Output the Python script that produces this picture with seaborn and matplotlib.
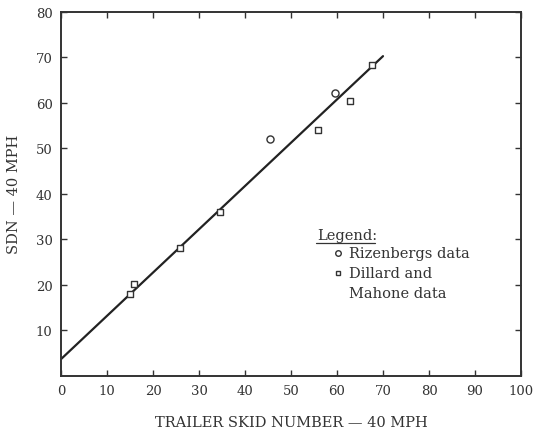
import matplotlib
matplotlib.use("Agg")
import matplotlib.pyplot as plt
import seaborn as sns
import pandas as pd

# Data
riz_x = [45.5, 59.6]
riz_y = [52.0, 62.2]
dm_x = [15.0, 15.8, 25.8, 34.6, 55.9, 62.9, 67.7]
dm_y = [17.9, 20.1, 28.2, 36.0, 54.0, 60.3, 68.2]
fit_x = [0, 70]
fit_y = [3.7, 70.2]
x_ticks = [0, 10, 20, 30, 40, 50, 60, 70, 80, 90, 100]
y_ticks = [10, 20, 30, 40, 50, 60, 70, 80]

sns.set_theme(style="ticks")
plt.rcParams['font.family'] = ['DejaVu Serif']

fig = plt.figure(figsize=(5.41, 4.31), dpi=100)
ax = fig.add_axes([61/541, 1 - 377/431, 460/541, 364.5/431])

riz = pd.DataFrame({"x": riz_x, "y": riz_y})
dm = pd.DataFrame({"x": dm_x, "y": dm_y})
fit = pd.DataFrame({"x": fit_x, "y": fit_y})

sns.lineplot(data=fit, x="x", y="y", ax=ax, color="#222222", linewidth=1.6)
sns.scatterplot(data=riz, x="x", y="y", ax=ax, marker="o", s=26,
                facecolor="white", edgecolor="#333333", linewidth=1.0, zorder=3)
sns.scatterplot(data=dm, x="x", y="y", ax=ax, marker="s", s=20,
                facecolor="white", edgecolor="#333333", linewidth=1.0, zorder=3)

ax.set_xlim(0, 100)
ax.set_ylim(0, 80)
ax.set_xticks(x_ticks)
ax.set_yticks(y_ticks)
ax.set_xticklabels([str(t) for t in x_ticks])
ax.set_yticklabels([str(t) for t in y_ticks])
ax.tick_params(direction="in", top=True, right=True, length=4, width=1.0,
               labelsize=9.5, colors="#333333", pad=6)
for s in ax.spines.values():
    s.set_linewidth(1.4)
    s.set_color("#333333")

ax.set_xlabel("TRAILER SKID NUMBER — 40 MPH", fontsize=10.5, color="#333333", labelpad=13)
ax.set_ylabel("SDN — 40 MPH", fontsize=10.5, color="#333333", labelpad=11)

# Legend as text
tc = "#333333"
fs = 10.5
ax.text(55.6, 31.0, "Legend:", fontsize=fs, color=tc, va="center", ha="left")
ax.plot([55.5, 68.3], [29.3, 29.3], color=tc, linewidth=0.9)
ax.plot([60.2], [26.9], marker="o", markersize=4, mfc="white", mec=tc, mew=1.0)
ax.text(62.6, 26.9, "Rizenbergs data", fontsize=fs, color=tc, va="center", ha="left")
ax.plot([60.2], [22.5], marker="s", markersize=3.5, mfc="white", mec=tc, mew=1.0)
ax.text(62.6, 22.5, "Dillard and", fontsize=fs, color=tc, va="center", ha="left")
ax.text(62.6, 18.3, "Mahone data", fontsize=fs, color=tc, va="center", ha="left")

fig.savefig("out.png", dpi=100)
